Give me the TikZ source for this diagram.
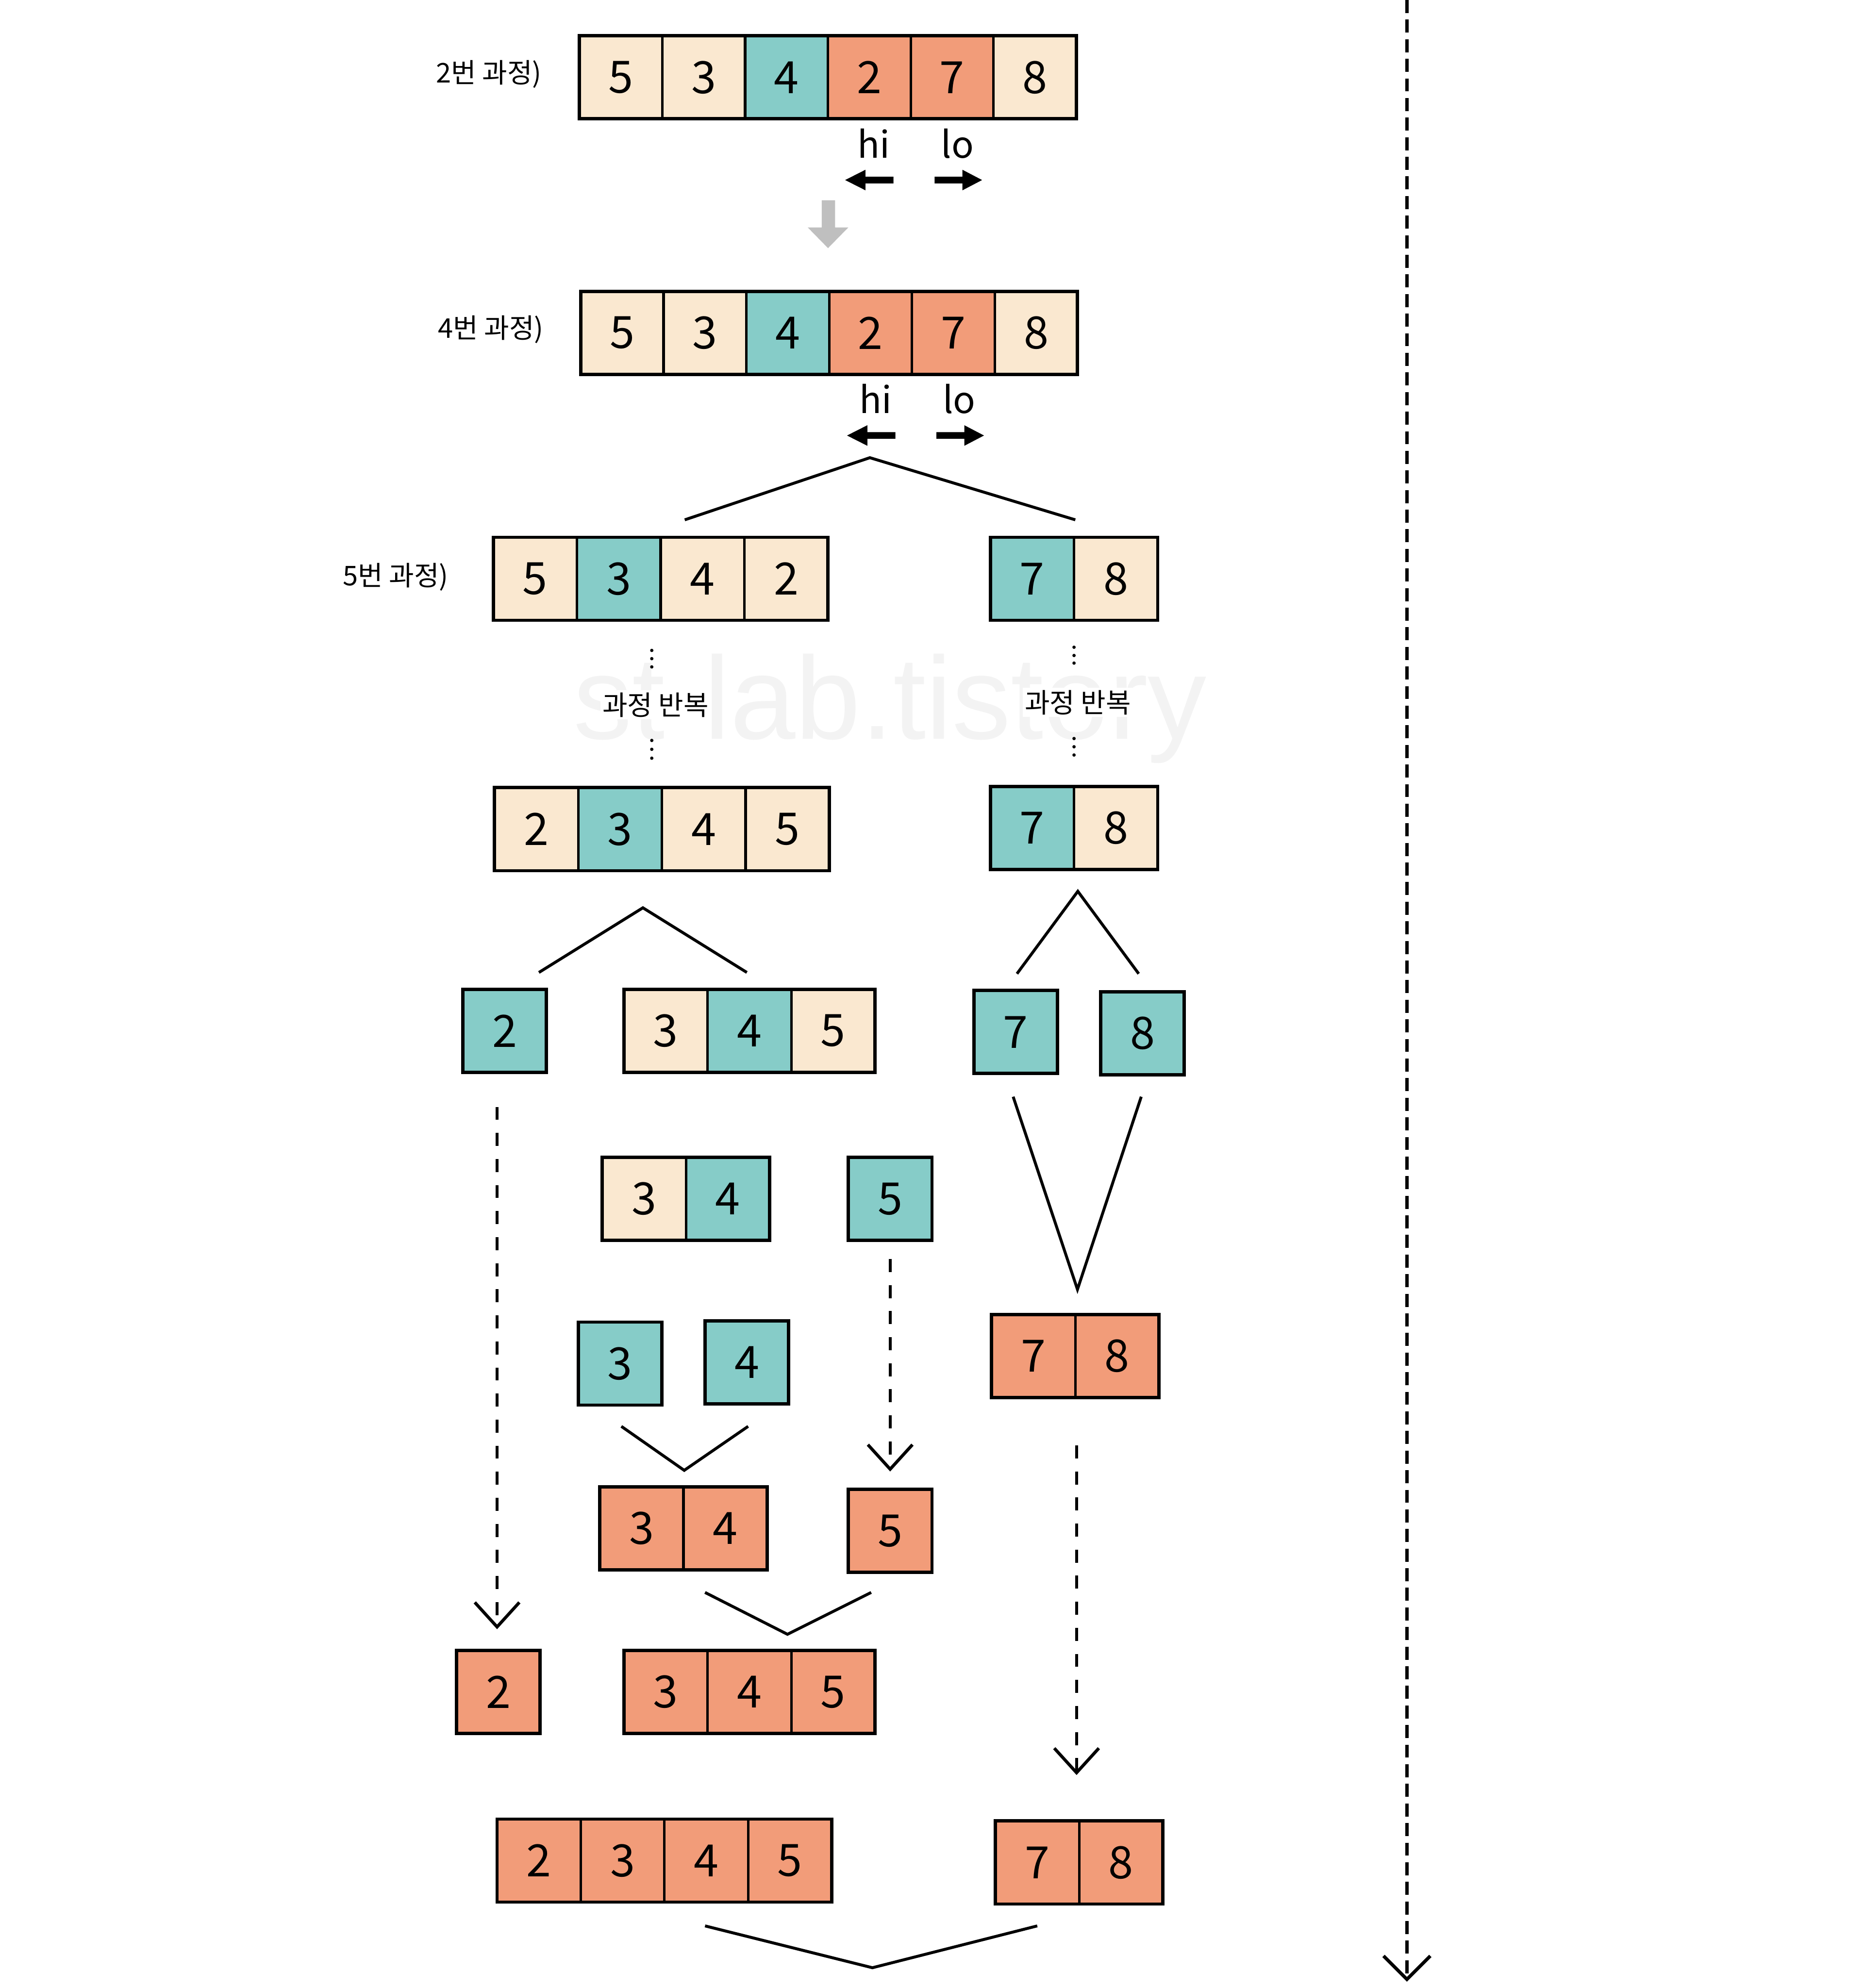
\documentclass[tikz,border=0pt]{standalone}
\usepackage{fontspec}
\setmainfont{Noto Sans CJK KR}
\newfontfamily\wmfont{Liberation Sans}
\usetikzlibrary{arrows.meta,fit}
\definecolor{cream}{RGB}{250,232,208}
\definecolor{mint}{RGB}{134,204,200}
\definecolor{salmon}{RGB}{242,156,121}
\definecolor{wmgray}{RGB}{243,243,243}
\definecolor{arrowgray}{RGB}{191,191,191}

% #1 name, #2 left x, #3 centre y, #4 cell width, #5 number of cells, #6 colour/digit list
\newcommand\cellrow[6]{%
  \foreach \c/\d [count=\i] in {#6} {
    \node[cell, fill=\c, minimum width={#4*0.02cm}] (#1-\i) at ({#2+(\i-0.5)*#4},#3) {\d};
  }
  \node[frame, fit=(#1-1)(#1-#5)] (#1) {};
}

% #1 suffix, #2 dx, #3 dy
\newcommand\hilo[3]{%
  \begin{scope}[shift={(#2,#3)}]
    \node[ptr] (hi#1) at (689,124.5) {hi};
    \node[ptr] (lo#1) at (755,124.5) {lo};
    \fill (666.5,142) -- (682.5,133.9) -- (682.5,139.35) -- (704.6,139.35) -- (704.6,144.65) -- (682.5,144.65) -- (682.5,150.1) -- cycle;
    \fill (774.5,142) -- (759,133.9) -- (759,139.35) -- (737,139.35) -- (737,144.65) -- (759,144.65) -- (759,150.1) -- cycle;
  \end{scope}}

\begin{document}
\begin{tikzpicture}[x=0.02cm, y=-0.02cm,
  cell/.style={draw, line width=1.1pt, minimum height=1.31cm, inner sep=0pt, outer sep=0pt, font=\fontsize{20}{24}\selectfont},
  frame/.style={draw, line width=1.5pt, inner sep=0pt, outer sep=0pt},
  tree/.style={line width=1.3pt},
  flow/.style={line width=1.4pt, dash pattern=on 5.85pt off 5.85pt, -{Straight Barb[length=11pt, width=20pt]}},
  bigflow/.style={line width=1.5pt, dash pattern=on 5.85pt off 2.95pt, -{Straight Barb[length=10.5pt, width=21pt]}},
  lbl/.style={font=\fontsize{12.2}{14}\selectfont, inner sep=0pt},
  rep/.style={font=\fontsize{12.2}{14}\selectfont, fill=white, inner sep=1pt},
  ptr/.style={font=\fontsize{16.5}{18}\selectfont, anchor=base, inner sep=0pt}]

\fill[white] (0,0) rectangle (1470,1568);
\useasboundingbox (0,0) rectangle (1470,1568);

% watermark
\node[anchor=base, inner sep=0pt, text=wmgray, font=\wmfont\fontsize{52.7}{60}\selectfont] (wm) at (702,583) {st-lab.tistory};

% step 2
\node[lbl] (lblA) at (385.5,58.5) {2번 과정)};
\cellrow{A}{457}{61}{65.3}{6}{cream/5,cream/3,mint/4,salmon/2,salmon/7,cream/8}
\hilo{A}{0}{0}

% grey arrow
\fill[arrowgray] (648,158) -- (658.6,158) -- (658.6,179.4) -- (669,179.4) -- (653,195.7) -- (637,179.4) -- (648,179.4) -- cycle;

% step 4
\node[lbl] (lblB) at (387,260) {4번 과정)};
\cellrow{B}{458}{262.5}{65.3}{6}{cream/5,cream/3,mint/4,salmon/2,salmon/7,cream/8}
\hilo{B}{1.5}{201.5}

% split
\coordinate (t1l) at (540,410); \coordinate (t1a) at (686,361); \coordinate (t1r) at (848,410);
\draw[tree] (t1l) -- (t1a) -- (t1r);

% step 5
\node[lbl] (lblC) at (312,455) {5번 과정)};
\cellrow{C}{389}{456.5}{66}{4}{cream/5,mint/3,cream/4,cream/2}
\cellrow{Cr}{781}{456.5}{66}{2}{mint/7,cream/8}

% repeat
\foreach \yy in {513,519.5,526,584,591,598} \fill (514,\yy) circle[radius=0.75pt];
\foreach \yy in {510.5,517,523,582.5,589,595.5} \fill (847,\yy) circle[radius=0.75pt];
\node[rep] (repL) at (517,556) {과정 반복};
\node[rep] (repR) at (850,554) {과정 반복};

% after repeat
\cellrow{D}{390}{654}{66}{4}{cream/2,mint/3,cream/4,cream/5}
\cellrow{Dr}{781}{653}{66}{2}{mint/7,cream/8}

\coordinate (t2l) at (425,767); \coordinate (t2a) at (507,716); \coordinate (t2r) at (589,767);
\draw[tree] (t2l) -- (t2a) -- (t2r);
\coordinate (t3l) at (802,768); \coordinate (t3a) at (850,703); \coordinate (t3r) at (898,768);
\draw[tree] (t3l) -- (t3a) -- (t3r);

\cellrow{E1}{365}{813}{66}{1}{mint/2}
\cellrow{E2}{492}{813}{66}{3}{cream/3,mint/4,cream/5}
\cellrow{E3}{768}{814}{66}{1}{mint/7}
\cellrow{E4}{868}{815}{66}{1}{mint/8}

\coordinate (t4l) at (799,865); \coordinate (t4a) at (849.7,1017); \coordinate (t4r) at (900,865);
\draw[tree] (t4l) -- (t4a) -- (t4r);

\cellrow{F1}{475}{945.5}{66}{2}{cream/3,mint/4}
\cellrow{F2}{669}{945.5}{66}{1}{mint/5}

\cellrow{G1}{456}{1075.5}{66}{1}{mint/3}
\cellrow{G2}{556}{1074.5}{66}{1}{mint/4}
\cellrow{G3}{782}{1069.5}{66}{2}{salmon/7,salmon/8}

\coordinate (t5l) at (490,1125); \coordinate (t5a) at (539.6,1159.7); \coordinate (t5r) at (590,1125);
\draw[tree] (t5l) -- (t5a) -- (t5r);

\cellrow{H1}{473}{1205.5}{66}{2}{salmon/3,salmon/4}
\cellrow{H2}{669}{1207.5}{66}{1}{salmon/5}

\coordinate (t6l) at (556,1256); \coordinate (t6a) at (621,1289); \coordinate (t6r) at (687,1256);
\draw[tree] (t6l) -- (t6a) -- (t6r);

\cellrow{I1}{360}{1334.5}{66}{1}{salmon/2}
\cellrow{I2}{492}{1334.5}{66}{3}{salmon/3,salmon/4,salmon/5}

\cellrow{J1}{392}{1467.5}{66}{4}{salmon/2,salmon/3,salmon/4,salmon/5}
\cellrow{J2}{785}{1469}{66}{2}{salmon/7,salmon/8}

\coordinate (t7l) at (556,1519); \coordinate (t7a) at (688,1552); \coordinate (t7r) at (818,1519);
\draw[tree] (t7l) -- (t7a) -- (t7r);

% dashed arrows
\coordinate (d1s) at (392,873); \coordinate (d1e) at (392,1285);
\draw[flow] (d1s) -- (d1e);
\coordinate (d2s) at (702,993); \coordinate (d2e) at (702,1160.6);
\draw[flow] (d2s) -- (d2e);
\coordinate (d3s) at (849,1140); \coordinate (d3e) at (849,1400);
\draw[flow] (d3s) -- (d3e);
\coordinate (d4s) at (1109.5,0); \coordinate (d4e) at (1109.5,1563);
\draw[bigflow] (d4s) -- (d4e);
\end{tikzpicture}
\end{document}
